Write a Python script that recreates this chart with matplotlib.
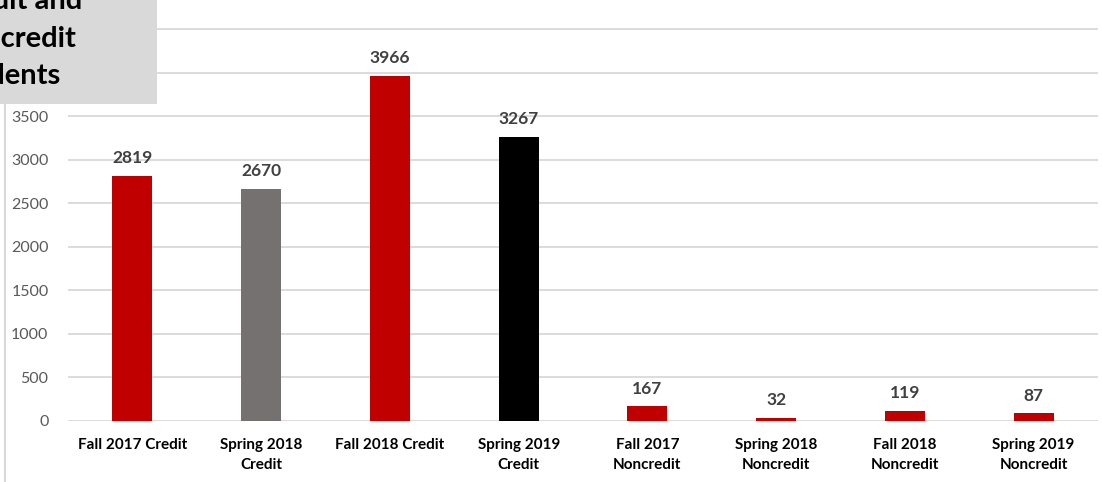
import matplotlib
matplotlib.use("Agg")
import matplotlib.pyplot as plt
from matplotlib.lines import Line2D
from matplotlib.patches import Rectangle

categories = ["Fall 2017 Credit", "Spring 2018\nCredit", "Fall 2018 Credit", "Spring 2019\nCredit",
              "Fall 2017\nNoncredit", "Spring 2018\nNoncredit", "Fall 2018\nNoncredit", "Spring 2019\nNoncredit"]
values = [2819, 2670, 3966, 3267, 167, 32, 119, 87]
colors = ["#C00000", "#767171", "#C00000", "#000000", "#C00000", "#C00000", "#C00000", "#C00000"]
yticks = [0, 500, 1000, 1500, 2000, 2500, 3000, 3500, 4000, 4500]
box_lines = ["Credit and", "Noncredit", "Students"]

W, H = 1102, 482
fig = plt.figure(figsize=(W / 100, H / 100), dpi=100)
fig.patch.set_facecolor("white")
plt.rcParams["font.family"] = ["Lato", "DejaVu Sans"]

left, right, top, bottom = 68, 1098, 28, 421
ax = fig.add_axes([left / W, 1 - bottom / H, (right - left) / W, (bottom - top) / H])
x = list(range(len(values)))
ax.bar(x, values, width=0.31, color=colors, zorder=3)
ax.set_xlim(-0.5, len(values) - 0.5)
ax.set_ylim(0, 4517)
ax.set_yticks(yticks)
ax.set_yticklabels([str(t) for t in yticks], fontsize=11.5, color="#595959")
ax.set_xticks(x)
ax.set_xticklabels(categories, fontsize=11, fontweight="bold", color="#000000", linespacing=1.55)
ax.tick_params(axis="both", length=0)
ax.tick_params(axis="y", pad=14)
ax.tick_params(axis="x", pad=12)
ax.grid(axis="y", color="#d9d9d9", linewidth=1.3, zorder=0)
for s in ax.spines.values():
    s.set_visible(False)
for xi, v in zip(x, values):
    ax.annotate(str(v), (xi, v), xytext=(0, 7), textcoords="offset points",
                ha="center", va="bottom", fontsize=12.5, fontweight="bold", color="#404040")

# left border line of chart area
fig.add_artist(Line2D([5 / W, 5 / W], [0, 1 - 104 / H], color="#d9d9d9", linewidth=1.5))

# grey title box (cropped at the figure edge)
fig.add_artist(Rectangle((0, 1 - 104 / H), 157 / W, 104 / H, transform=fig.transFigure,
                         facecolor="#d9d9d9", edgecolor="none", zorder=5))
line_right = [82, 77, 61]
line_base = [9, 47, 84]
for txt, xr, yb in zip(box_lines, line_right, line_base):
    fig.text(xr / W, 1 - yb / H, txt, ha="right", va="baseline", fontsize=21, fontweight="bold",
             color="#000000", zorder=6)

fig.savefig("out.png", dpi=100, facecolor="white")
